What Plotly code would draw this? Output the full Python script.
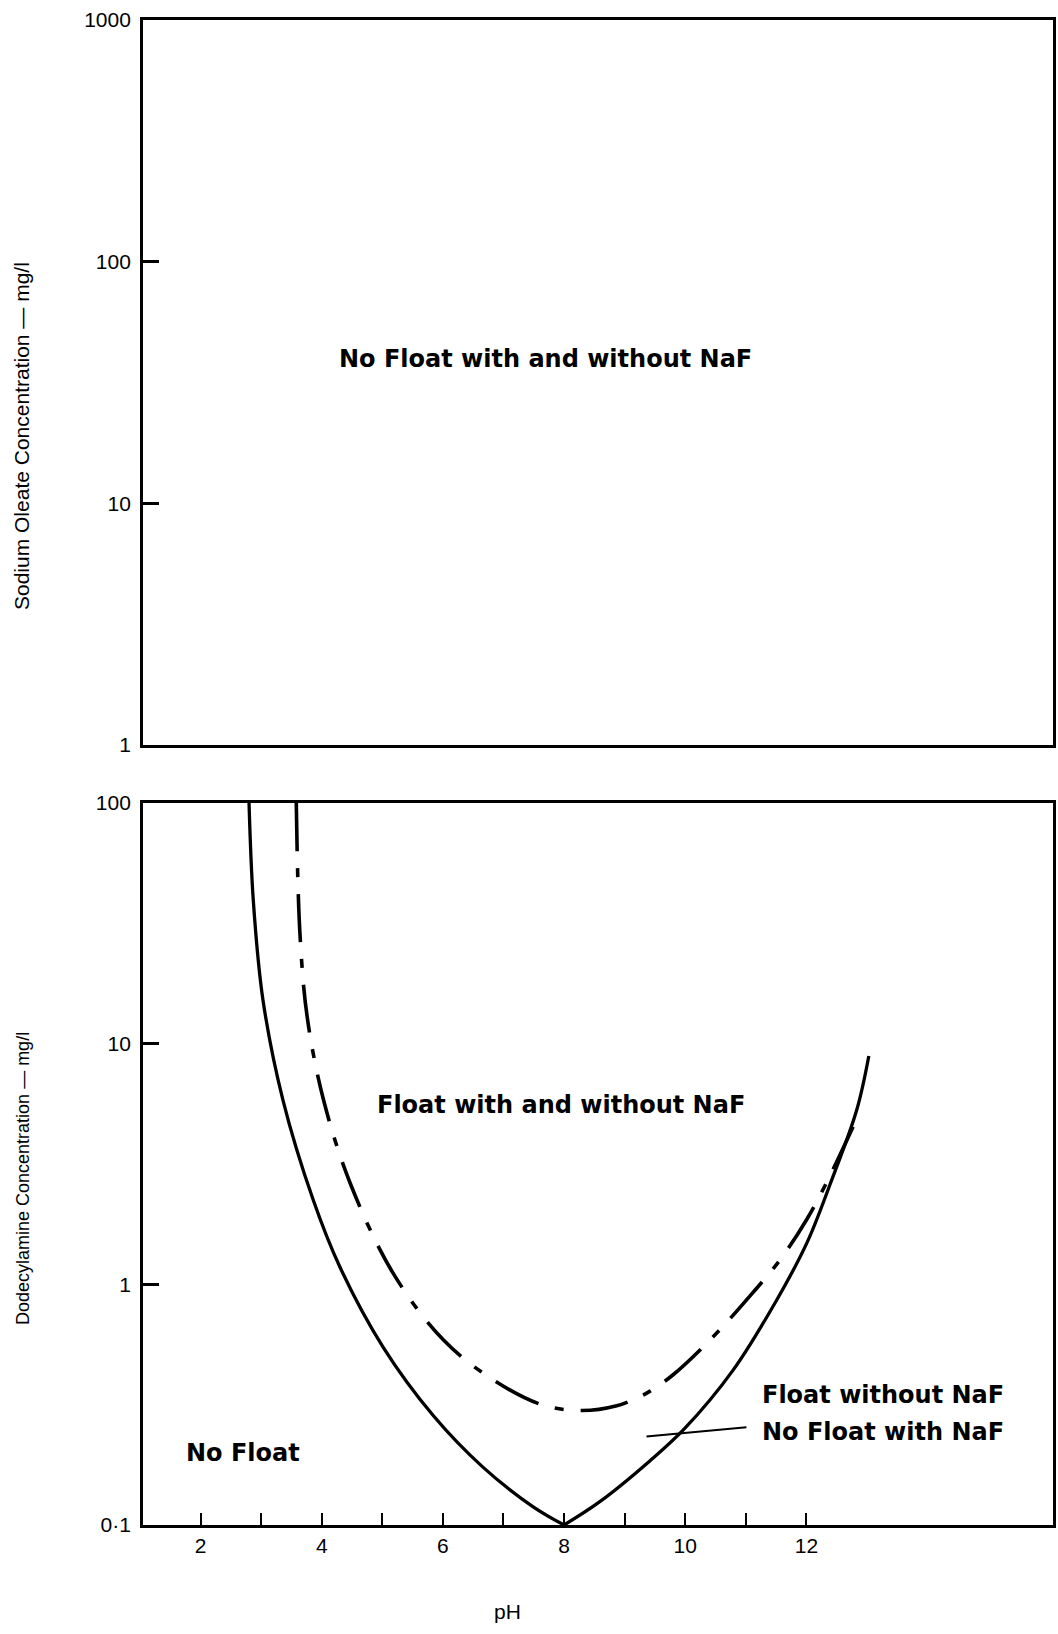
import plotly.graph_objects as go

# ---------------- data ----------------
# solid boundary (without NaF) - left branch and right branch
solid_left_ph = [2.80, 2.87, 3.03, 3.36, 3.86, 4.30, 5.01, 5.84, 6.66, 7.49, 8.0]
solid_left_c = [100, 39.5, 15.2, 5.83, 2.24, 1.18, 0.55, 0.285, 0.174, 0.119, 0.1]
solid_right_ph = [8.0, 8.59, 9.42, 9.98, 10.79, 11.51, 12.01, 12.39, 12.83, 13.03]
solid_right_c = [0.1, 0.125, 0.185, 0.25, 0.44, 0.861, 1.49, 2.60, 5.30, 8.89]

# dash-dot boundary (with NaF)
dd_ph = [3.58, 3.64, 3.76, 4.03, 4.47, 5.18, 6.01, 6.83, 7.65, 8.30, 8.87,
         9.20, 9.42, 9.80, 10.46, 11.01, 11.56, 12.00, 12.33, 12.77]
dd_c = [100, 28.8, 12.9, 5.83, 2.63, 1.11, 0.587, 0.401, 0.315, 0.299, 0.313,
        0.337, 0.36, 0.421, 0.605, 0.861, 1.26, 1.85, 2.64, 4.52]

# leader line for the "Float without / No Float with NaF" label
leader_ph = [9.36, 11.01]
leader_c = [0.233, 0.255]

x_tickvals = [2, 3, 4, 5, 6, 7, 8, 9, 10, 11, 12]
x_ticktext = ["2", "", "4", "", "6", "", "8", "", "10", "", "12"]
top_y_tickvals = [1, 10, 100, 1000]
top_y_ticktext = ["1", "10", "100", "1000"]
bot_y_tickvals = [0.1, 1, 10, 100]
bot_y_ticktext = ["0·1", "1", "10", "100"]

# ---------------- figure ----------------
W, H = 1058, 1634
fig = go.Figure()

fig.add_trace(go.Scatter(x=solid_left_ph, y=solid_left_c, mode="lines",
                         line=dict(color="black", width=3.3, shape="spline", smoothing=1.0),
                         xaxis="x2", yaxis="y2", showlegend=False, hoverinfo="skip"))
fig.add_trace(go.Scatter(x=solid_right_ph, y=solid_right_c, mode="lines",
                         line=dict(color="black", width=3.3, shape="spline", smoothing=1.0),
                         xaxis="x2", yaxis="y2", showlegend=False, hoverinfo="skip"))
fig.add_trace(go.Scatter(x=dd_ph, y=dd_c, mode="lines",
                         line=dict(color="black", width=3.6, dash="48px,17px,9px,17px",
                                   shape="spline", smoothing=1.0),
                         xaxis="x2", yaxis="y2", showlegend=False, hoverinfo="skip"))
fig.add_trace(go.Scatter(x=leader_ph, y=leader_c, mode="lines",
                         line=dict(color="black", width=2),
                         xaxis="x2", yaxis="y2", showlegend=False, hoverinfo="skip"))

x0, x1 = 143 / W, 1053 / W
top_dom = [1 - 745 / H, 1 - 19.5 / H]
bot_dom = [1 - 1525 / H, 1 - 803 / H]
xrange = [1.05, 16.07]

tick_font = dict(family="Liberation Sans, Arial, sans-serif", size=21, color="black")
xtick_font = dict(family="Liberation Sans Narrow, Liberation Sans, Arial, sans-serif", size=21, color="black")

common_axis = dict(showline=True, linecolor="black", linewidth=2.8, mirror=True,
                   showgrid=False, zeroline=False, automargin=False)

fig.update_layout(
    width=W, height=H,
    margin=dict(l=0, r=0, t=0, b=0),
    paper_bgcolor="white", plot_bgcolor="white",
    showlegend=False,
    xaxis=dict(domain=[x0, x1], range=xrange, anchor="y", showticklabels=False,
               ticks="", **common_axis),
    yaxis=dict(domain=top_dom, type="log", range=[0, 3], anchor="x",
               tickvals=top_y_tickvals, ticktext=top_y_ticktext,
               ticks="inside", ticklen=16, tickwidth=2.5, tickcolor="black",
               ticklabelstandoff=5, tickfont=tick_font, **common_axis),
    xaxis2=dict(domain=[x0, x1], range=xrange, anchor="y2",
                tickvals=x_tickvals, ticktext=x_ticktext,
                ticks="inside", ticklen=12, tickwidth=2, tickcolor="black",
                tickfont=xtick_font, **common_axis),
    yaxis2=dict(domain=bot_dom, type="log", range=[-1, 2], anchor="x2",
                tickvals=bot_y_tickvals, ticktext=bot_y_ticktext,
                ticks="inside", ticklen=16, tickwidth=2.5, tickcolor="black",
                ticklabelstandoff=5, tickfont=tick_font, **common_axis),
)

label_font = dict(family="DejaVu Sans, Verdana, sans-serif", size=24, color="black")
fig.add_annotation(x=7.69, y=1.597, xref="x", yref="y", text="<b>No Float with and without NaF</b>",
                   showarrow=False, font=label_font, xanchor="center", yanchor="middle")
fig.add_annotation(x=7.95, y=0.745, xref="x2", yref="y2", text="<b>Float with and without NaF</b>",
                   showarrow=False, font=label_font, xanchor="center", yanchor="middle")
fig.add_annotation(x=11.23, y=-0.46, xref="x2", yref="y2", text="<b>Float without NaF</b>",
                   showarrow=False, font=label_font, xanchor="left", yanchor="middle")
fig.add_annotation(x=11.23, y=-0.614, xref="x2", yref="y2", text="<b>No Float with NaF</b>",
                   showarrow=False, font=label_font, xanchor="left", yanchor="middle")
fig.add_annotation(x=2.70, y=-0.701, xref="x2", yref="y2", text="<b>No Float</b>",
                   showarrow=False, font=label_font, xanchor="center", yanchor="middle")

# axis titles
fig.add_annotation(x=21 / W, y=1 - 436 / H, xref="paper", yref="paper",
                   text="Sodium Oleate Concentration — mg/l", textangle=-90, showarrow=False,
                   font=dict(family="Liberation Sans, Arial, sans-serif", size=21, color="black"),
                   xanchor="center", yanchor="middle")
fig.add_annotation(x=23 / W, y=1 - 1179 / H, xref="paper", yref="paper",
                   text="Dodecylamine Concentration — mg/l", textangle=-90, showarrow=False,
                   font=dict(family="Liberation Sans, Arial, sans-serif", size=18, color="black"),
                   xanchor="center", yanchor="middle")
fig.add_annotation(x=507 / W, y=1 - 1611 / H, xref="paper", yref="paper",
                   text="pH", showarrow=False, font=xtick_font,
                   xanchor="center", yanchor="middle")

fig.write_html("out.html")
